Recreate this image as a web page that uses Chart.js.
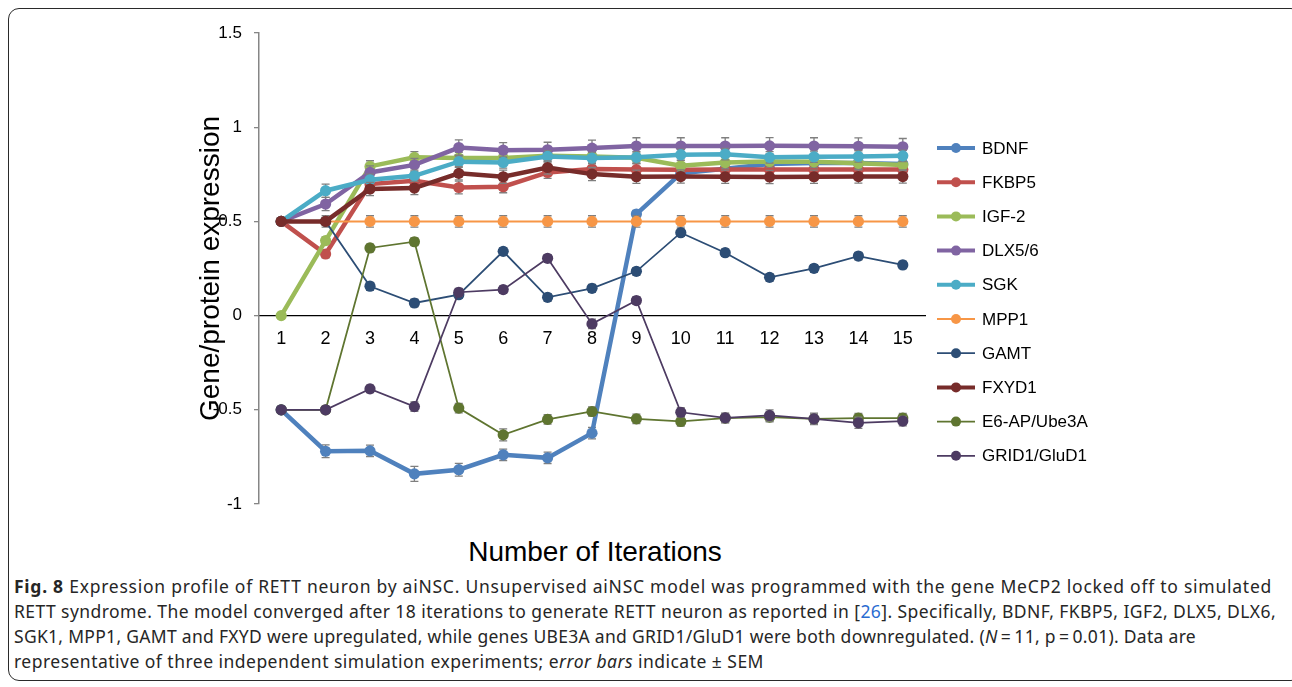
<!DOCTYPE html>
<html>
<head>
<meta charset="utf-8">
<script src="https://cdn.jsdelivr.net/npm/chart.js@4.4.1/dist/chart.umd.min.js"></script>
<style>
  html, body { margin: 0; padding: 0; background: #fff; }
  body { width: 1292px; height: 687px; overflow: hidden; position: relative; }
  #frame {
    position: absolute; left: 8px; top: 8px; width: 1294px; height: 673px;
    border: 1.5px solid #2a2a2a; border-radius: 11px; box-sizing: border-box;
  }
  #plot { position: absolute; left: 0; top: 0; width: 1292px; height: 530px; }
  #xtitle {
    position: absolute; left: 395px; width: 400px; top: 536px; line-height: 32px;
    text-align: center; font: 28px "Liberation Sans", Arial, sans-serif; color: #000;
  }
  #caption {
    position: absolute; left: 14px; top: 574px;
    font-family: "Noto Sans", "DejaVu Sans", sans-serif;
    font-size: 17.5px; line-height: 25px; color: #262626;
  }
  #caption .ln { white-space: nowrap; display: block; }
  #caption .inner { display: inline-block; }
  #caption b { font-weight: bold; }
  #caption a { color: #2a6bd1; text-decoration: none; }
</style>
</head>
<body>
<div id="frame"></div>
<div id="plot"><canvas id="c" width="1292" height="530"></canvas></div>
<div id="xtitle">Number of Iterations</div>
<div id="caption">
<span class="ln" data-w="1258"><span class="inner"><b>Fig. 8</b> Expression profile of RETT neuron by aiNSC. Unsupervised aiNSC model was programmed with the gene MeCP2 locked off to simulated</span></span>
<span class="ln" data-w="1262"><span class="inner">RETT syndrome. The model converged after 18 iterations to generate RETT neuron as reported in [<a>26</a>]. Specifically, BDNF, FKBP5, IGF2, DLX5, DLX6,</span></span>
<span class="ln" data-w="1182"><span class="inner">SGK1, MPP1, GAMT and FXYD were upregulated, while genes UBE3A and GRID1/GluD1 were both downregulated. (<i>N</i>&#8201;=&#8201;11, p&#8201;=&#8201;0.01). Data are</span></span>
<span class="ln" data-w="750"><span class="inner">representative of three independent simulation experiments; e<i>rror bars</i> indicate ± SEM</span></span>
</div>
<script>
// Iteration numbers on the x axis
const iterations = ['1','2','3','4','5','6','7','8','9','10','11','12','13','14','15'];
const yTickValues = [-1, -0.5, 0, 0.5, 1, 1.5];

// Expression per gene at each iteration
const bdnf  = [-0.5, -0.72, -0.718, -0.84, -0.818, -0.739, -0.755, -0.624, 0.539, 0.755, 0.78, 0.805, 0.81, 0.81, 0.805];
const fkbp5 = [0.5, 0.327, 0.698, 0.716, 0.68, 0.684, 0.76, 0.778, 0.775, 0.774, 0.775, 0.776, 0.775, 0.776, 0.775];
const igf2  = [0, 0.398, 0.792, 0.84, 0.836, 0.836, 0.848, 0.845, 0.838, 0.795, 0.812, 0.818, 0.816, 0.808, 0.80];
const dlx56 = [0.5, 0.592, 0.76, 0.8, 0.892, 0.878, 0.88, 0.889, 0.9, 0.9, 0.9, 0.901, 0.9, 0.899, 0.896];
const sgk   = [0.5, 0.663, 0.721, 0.742, 0.817, 0.813, 0.845, 0.836, 0.84, 0.854, 0.857, 0.84, 0.843, 0.845, 0.848];
const mpp1  = [0.5, 0.5, 0.5, 0.5, 0.5, 0.5, 0.5, 0.5, 0.5, 0.5, 0.5, 0.5, 0.5, 0.5, 0.5];
const gamt  = [0.5, 0.5, 0.156, 0.067, 0.111, 0.341, 0.097, 0.145, 0.235, 0.44, 0.334, 0.203, 0.251, 0.316, 0.269];
const fxyd1 = [0.5, 0.5, 0.672, 0.677, 0.755, 0.737, 0.786, 0.751, 0.737, 0.738, 0.737, 0.736, 0.737, 0.738, 0.738];
const ube3a = [-0.5, -0.5, 0.359, 0.392, -0.491, -0.633, -0.551, -0.509, -0.548, -0.562, -0.544, -0.539, -0.548, -0.544, -0.544];
const grid1 = [-0.5, -0.5, -0.389, -0.483, 0.124, 0.138, 0.304, -0.044, 0.08, -0.513, -0.543, -0.53, -0.548, -0.569, -0.56];

// Standard error of the mean for each gene
const bdnfErr  = [0, 0.034, 0.03, 0.04, 0.034, 0.03, 0.03, 0.03, 0.02, 0.03, 0.03, 0.03, 0.03, 0.03, 0.03];
const fkbp5Err = [0, 0.02, 0.03, 0.03, 0.034, 0.032, 0.032, 0.03, 0.03, 0.03, 0.03, 0.03, 0.03, 0.03, 0.03];
const igf2Err  = [0, 0.02, 0.03, 0.03, 0.03, 0.03, 0.03, 0.03, 0.03, 0.03, 0.03, 0.03, 0.03, 0.03, 0.03];
const dlx56Err = [0, 0.035, 0.035, 0.035, 0.041, 0.04, 0.04, 0.042, 0.044, 0.044, 0.044, 0.044, 0.044, 0.044, 0.044];
const sgkErr   = [0, 0.035, 0.03, 0.03, 0.03, 0.03, 0.03, 0.03, 0.03, 0.03, 0.03, 0.03, 0.03, 0.03, 0.03];
const mpp1Err  = [0, 0.03, 0.03, 0.03, 0.03, 0.03, 0.03, 0.03, 0.03, 0.03, 0.03, 0.03, 0.03, 0.03, 0.03];
const gamtErr  = [0, 0, 0.02, 0.02, 0.02, 0.02, 0.02, 0.02, 0.02, 0.02, 0.02, 0.02, 0.02, 0.02, 0.02];
const fxyd1Err = [0, 0.02, 0.035, 0.035, 0.035, 0.035, 0.035, 0.035, 0.035, 0.035, 0.035, 0.035, 0.035, 0.035, 0.035];
const ube3aErr = [0, 0, 0.02, 0.02, 0.025, 0.032, 0.025, 0.025, 0.025, 0.025, 0.025, 0.025, 0.025, 0.025, 0.025];
const grid1Err = [0, 0, 0.02, 0.025, 0.02, 0.02, 0.02, 0.025, 0.02, 0.025, 0.025, 0.03, 0.03, 0.03, 0.025];

const geneNames = ['BDNF', 'FKBP5', 'IGF-2', 'DLX5/6', 'SGK', 'MPP1', 'GAMT', 'FXYD1', 'E6-AP/Ube3A', 'GRID1/GluD1'];
const geneValues = [bdnf, fkbp5, igf2, dlx56, sgk, mpp1, gamt, fxyd1, ube3a, grid1];
const geneErrors = [bdnfErr, fkbp5Err, igf2Err, dlx56Err, sgkErr, mpp1Err, gamtErr, fxyd1Err, ube3aErr, grid1Err];
const geneColors = ['#4F81BD', '#C0504D', '#9BBB59', '#8064A2', '#4BACC6', '#F79646', '#2C4D75', '#772C2A', '#5F7530', '#4D3B62'];
const geneWidths = [4.5, 4.5, 4.5, 4.5, 4.5, 2, 1.75, 4.5, 1.75, 1.75];

const FONT = '"Liberation Sans", Arial, sans-serif';

// Stretch each caption line to its column width with letter spacing
document.querySelectorAll('#caption .ln').forEach(ln => {
  const inner = ln.querySelector('.inner');
  const target = Number(ln.dataset.w);
  const natural = inner.getBoundingClientRect().width;
  const chars = inner.textContent.length;
  inner.style.letterSpacing = ((target - natural) / chars).toFixed(3) + 'px';
});

// Grey SEM whiskers, drawn right before each series so later series sit on top
const errorBars = {
  id: 'errorBars',
  beforeDatasetDraw(chart, args) {
    const i = args.index;
    const errs = geneErrors[i];
    const vals = geneValues[i];
    const y = chart.scales.y;
    const ctx = chart.ctx;
    ctx.save();
    ctx.strokeStyle = '#7f7f7f';
    ctx.lineWidth = 1.3;
    args.meta.data.forEach((pt, j) => {
      const e = errs[j];
      if (!e) return;
      const yt = y.getPixelForValue(vals[j] + e);
      const yb = y.getPixelForValue(vals[j] - e);
      ctx.beginPath();
      ctx.moveTo(pt.x, yt); ctx.lineTo(pt.x, yb);
      ctx.moveTo(pt.x - 4, yt); ctx.lineTo(pt.x + 4, yt);
      ctx.moveTo(pt.x - 4, yb); ctx.lineTo(pt.x + 4, yb);
      ctx.stroke();
    });
    ctx.restore();
  }
};

// Legend with a line-and-marker swatch per gene
const lineLegend = {
  id: 'lineLegend',
  afterDraw(chart) {
    const ctx = chart.ctx;
    const x0 = 937, x1 = 975, textX = 982, top = 148, step = 34.2;
    ctx.save();
    chart.data.datasets.forEach((ds, i) => {
      const yy = top + i * step;
      ctx.strokeStyle = ds.borderColor;
      ctx.lineWidth = Math.min(ds.borderWidth, 4);
      ctx.beginPath();
      ctx.moveTo(x0, yy); ctx.lineTo(x1, yy);
      ctx.stroke();
      ctx.fillStyle = ds.borderColor;
      ctx.beginPath();
      ctx.arc((x0 + x1) / 2, yy, 5, 0, Math.PI * 2);
      ctx.fill();
      ctx.fillStyle = '#000';
      ctx.font = '17px ' + FONT;
      ctx.textAlign = 'left';
      ctx.textBaseline = 'middle';
      ctx.fillText(ds.label, textX, yy + 1);
    });
    ctx.restore();
  }
};

const datasets = geneNames.map((name, i) => ({
  label: name,
  data: geneValues[i],
  borderColor: geneColors[i],
  backgroundColor: geneColors[i],
  pointBackgroundColor: geneColors[i],
  pointBorderWidth: 0,
  pointRadius: 5.6,
  pointHoverRadius: 5.6,
  borderWidth: geneWidths[i],
  tension: 0,
  fill: false,
  order: geneNames.length - i
}));

new Chart(document.getElementById('c'), {
  type: 'line',
  data: { labels: iterations, datasets },
  options: {
    responsive: false,
    animation: false,
    layout: { padding: { left: 189, right: 367, top: 33, bottom: 26 } },
    plugins: { legend: { display: false }, tooltip: { enabled: false } },
    scales: {
      x: {
        type: 'category',
        position: { y: 0 },
        offset: true,
        grid: { display: false, drawTicks: false },
        border: { display: true, color: '#000', width: 1.2 },
        ticks: { color: '#000', font: { family: FONT, size: 18 }, padding: 13, maxRotation: 0, autoSkip: false }
      },
      y: {
        min: -1,
        max: 1.5,
        afterBuildTicks(scale) { scale.ticks = yTickValues.map(v => ({ value: v })); },
        afterFit(scale) { scale.width = 70; },
        grid: { display: true, drawOnChartArea: false, drawTicks: true, tickLength: 5, color: '#868686', lineWidth: 1.3 },
        border: { display: true, color: '#868686', width: 1.5 },
        ticks: {
          color: '#000', font: { family: FONT, size: 17 }, padding: 12,
          callback: v => String(v)
        },
        title: {
          display: true, text: 'Gene/protein expression', color: '#000',
          font: { family: FONT, size: 28 }, padding: { top: 5, bottom: 0 }
        }
      }
    }
  },
  plugins: [errorBars, lineLegend]
});
</script>
</body>
</html>
